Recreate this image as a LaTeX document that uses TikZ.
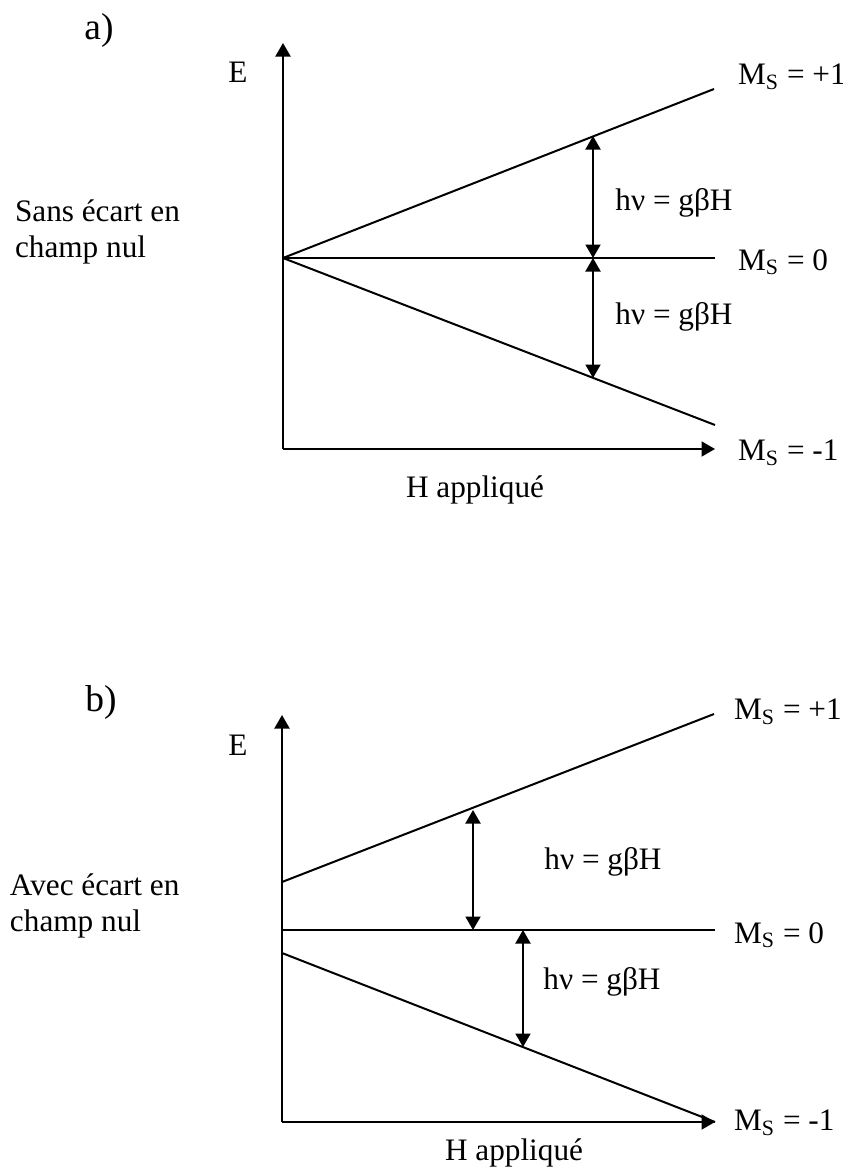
\documentclass[tikz,border=0pt]{standalone}
\usepackage{fontspec}
\setmainfont{Liberation Serif}
\usetikzlibrary{arrows.meta}

\begin{document}
\begin{tikzpicture}[x=0.4pt,y=-0.4pt,line width=0.8pt,
    >={Triangle[width=6pt,length=5.4pt]},font=\fontsize{12.5}{14.5}\selectfont]
  \tikzstyle{txt}=[inner sep=0pt]
  \tikzstyle{lab}=[txt,anchor=west]
  \tikzstyle{part}=[txt,font=\fontsize{15}{18}\selectfont]
  \tikzstyle{gap}=[<->]
  \useasboundingbox (0,0) rectangle (842,1167);
  % a) sans ecart
  \node[part] (ta) at (99,30) {a)};
  \coordinate (Oa) at (283,449);
  \coordinate (Ea) at (283,43);
  \coordinate (Ha) at (715,449);
  \coordinate (Za) at (283,258);
  \coordinate (Pa) at (714,89);
  \coordinate (Na) at (715,258);
  \coordinate (Ma) at (715,425);
  \coordinate (A1) at (593,136);
  \coordinate (A2) at (593,258);
  \coordinate (A3) at (593,378);
  \draw[->] (Oa) -- (Ea);
  \draw[->] (Oa) -- (Ha);
  \draw (Za) -- (Pa);
  \draw (Za) -- (Na);
  \draw (Za) -- (Ma);
  \draw[gap] (A1) -- (A2);
  \draw[gap] (A2) -- (A3);
  \node[txt] (Eal) at (238,72) {E};
  \node[txt] (Hal) at (475,490) {H appliqué};
  \node[lab,align=left] (da) at (14,232) {Sans écart en\\champ nul};
  \node[txt] (ga1) at (674,203) {hν = gβH};
  \node[txt] (ga2) at (674,317) {hν = gβH};
  \node[lab] (pa) at (737,77) {M\textsubscript{S} = +1};
  \node[lab] (na) at (737,262) {M\textsubscript{S} = 0};
  \node[lab] (ma) at (737,453) {M\textsubscript{S} = -1};
  % b) avec ecart
  \node[part] (tb) at (101,702) {b)};
  \coordinate (Ob) at (282,1122);
  \coordinate (Eb) at (282,715);
  \coordinate (Hb) at (715,1122);
  \coordinate (Pb0) at (282,882);
  \coordinate (Pb) at (714,714);
  \coordinate (Nb0) at (282,930);
  \coordinate (Nb) at (715,930);
  \coordinate (Mb0) at (282,953);
  \coordinate (B1) at (473,810);
  \coordinate (B2) at (473,930);
  \coordinate (B3) at (523,930);
  \coordinate (B4) at (523,1047);
  \draw[->] (Ob) -- (Eb);
  \draw[->] (Ob) -- (Hb);
  \draw (Pb0) -- (Pb);
  \draw (Nb0) -- (Nb);
  \draw (Mb0) -- (Hb);
  \draw[gap] (B1) -- (B2);
  \draw[gap] (B3) -- (B4);
  \node[txt] (Ebl) at (238,745) {E};
  \node[txt] (Hbl) at (514,1153) {H appliqué};
  \node[lab,align=left] (db) at (9,906) {Avec écart en\\champ nul};
  \node[txt] (gb1) at (603,862) {hν = gβH};
  \node[txt] (gb2) at (602,982) {hν = gβH};
  \node[lab] (pb) at (733,712) {M\textsubscript{S} = +1};
  \node[lab] (nb) at (733,935) {M\textsubscript{S} = 0};
  \node[lab] (mb) at (733,1123) {M\textsubscript{S} = -1};
\end{tikzpicture}
\end{document}
